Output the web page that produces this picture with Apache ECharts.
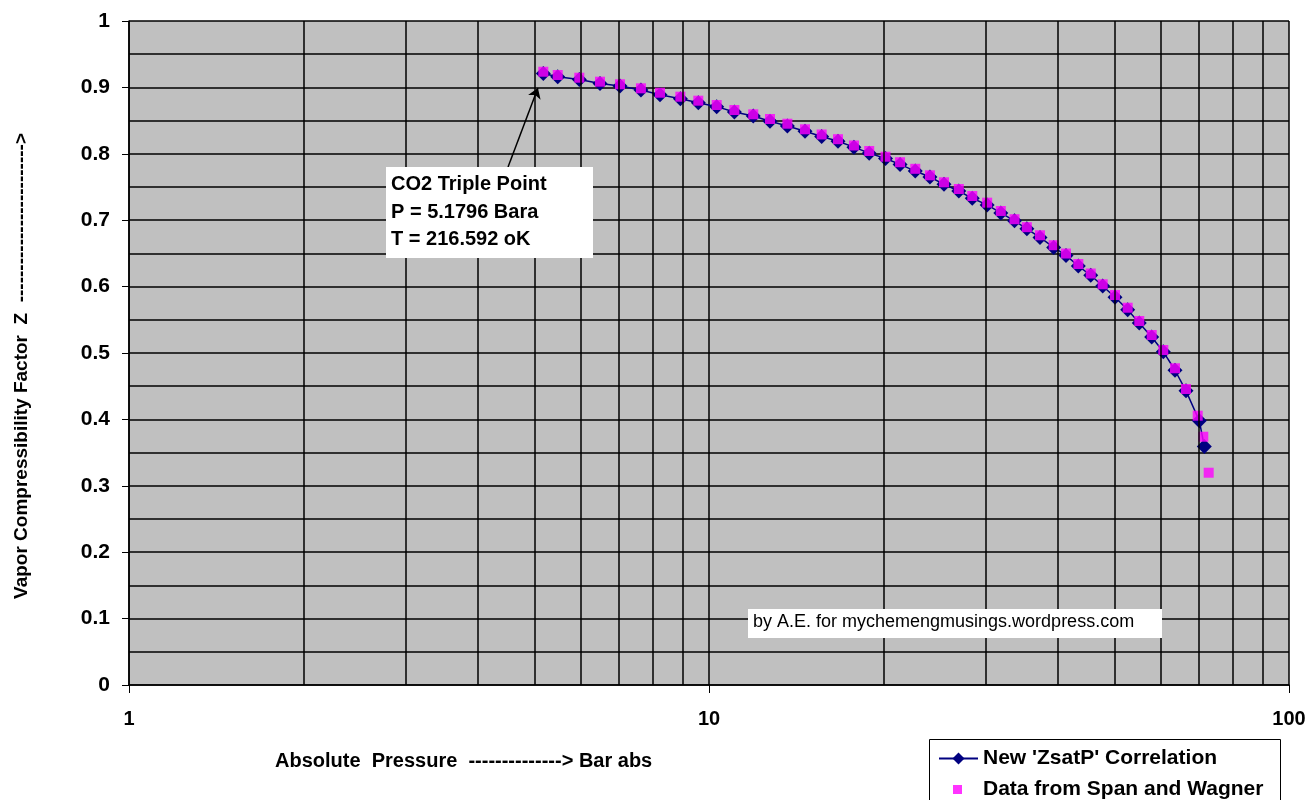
<!DOCTYPE html>
<html>
<head>
<meta charset="utf-8">
<script src="https://cdn.jsdelivr.net/npm/echarts@6/dist/echarts.min.js"></script>
<style>
html, body { margin: 0; padding: 0; background: #fff; }
#chart { width: 1311px; height: 800px; }
</style>
</head>
<body>
<div id="chart"></div>
<script>
// saturation pressure, bar abs (Span & Wagner data points)
var dataP = [5.18, 5.485, 5.976, 6.487, 7.023, 7.632, 8.233, 8.925, 9.584, 10.31,
  11.06, 11.92, 12.74, 13.65, 14.64, 15.64, 16.69, 17.78, 18.89, 20.15,
  21.35, 22.68, 24.04, 25.42, 26.96, 28.44, 30.17, 31.85, 33.63, 35.32,
  37.21, 39.29, 41.26, 43.33, 45.52, 47.73, 50.12, 52.71, 55.19, 57.98,
  60.71, 63.60, 66.44, 69.60, 71.16, 72.70]
var dataZ = [0.9236, 0.9187, 0.9146, 0.9086, 0.9047, 0.8986, 0.8920, 0.8860, 0.8800, 0.8735,
  0.8660, 0.8595, 0.8524, 0.8453, 0.8369, 0.8291, 0.8220, 0.8125, 0.8042, 0.7956,
  0.7873, 0.7774, 0.7676, 0.7571, 0.7470, 0.7364, 0.7264, 0.7139, 0.7015, 0.6895,
  0.6773, 0.6623, 0.6498, 0.6340, 0.6197, 0.6035, 0.5873, 0.5682, 0.5482, 0.5271,
  0.5045, 0.4770, 0.4458, 0.4056, 0.3739, 0.3197]

// new 'ZsatP' correlation
var corrP = [5.18, 5.485, 5.976, 6.487, 7.023, 7.632, 8.233, 8.925, 9.584, 10.31,
  11.06, 11.92, 12.74, 13.65, 14.64, 15.64, 16.69, 17.78, 18.89, 20.15,
  21.35, 22.68, 24.04, 25.42, 26.96, 28.44, 30.17, 31.85, 33.63, 35.32,
  37.21, 39.29, 41.26, 43.33, 45.52, 47.73, 50.12, 52.71, 55.19, 57.98,
  60.71, 63.60, 66.44, 70.04, 71.45]
var corrZ = [0.921, 0.916, 0.912, 0.906, 0.902, 0.896, 0.889, 0.883, 0.877, 0.871,
  0.863, 0.857, 0.849, 0.842, 0.834, 0.826, 0.819, 0.810, 0.801, 0.793,
  0.784, 0.774, 0.765, 0.754, 0.744, 0.733, 0.723, 0.711, 0.699, 0.687,
  0.674, 0.659, 0.647, 0.631, 0.617, 0.601, 0.584, 0.565, 0.545, 0.524,
  0.502, 0.474, 0.443, 0.398, 0.359]

// minor log grid lines
var minorX = [2, 3, 4, 5, 6, 7, 8, 9, 20, 30, 40, 50, 60, 70, 80, 90]

// arrow of the triple point note (from, to)
var arrowFrom = [4.503, 0.780]
var arrowTo = [5.07, 0.899]

var FONT = 'Liberation Sans, Arial, sans-serif'
var gridLine = { color: '#000', width: 1.5 }

function zip (xs, ys) {
  return xs.map(function (x, i) { return [x, ys[i]] })
}

var chart = echarts.init(document.getElementById('chart'))
chart.setOption({
  animation: false,
  grid: {
    left: 129, top: 21, width: 1160, height: 664,
    show: true, backgroundColor: '#c0c0c0', borderWidth: 0
  },
  xAxis: {
    type: 'log', logBase: 10, min: 1, max: 100,
    axisLine: { show: true, lineStyle: { color: '#000', width: 1.5 } },
    axisTick: { show: true, length: 8, lineStyle: { color: '#000' } },
    axisLabel: { color: '#000', fontSize: 20, fontWeight: 'bold', fontFamily: FONT, margin: 24 },
    splitLine: { show: true, lineStyle: gridLine }
  },
  yAxis: {
    type: 'value', min: 0, max: 1, interval: 0.1,
    axisLine: { show: true, lineStyle: { color: '#000', width: 1.5 } },
    axisTick: { show: true, length: 7, lineStyle: { color: '#000' } },
    axisLabel: { color: '#000', fontSize: 21, fontWeight: 'bold', fontFamily: FONT, margin: 19 },
    splitLine: { show: true, lineStyle: gridLine },
    minorTick: { show: false, splitNumber: 2 },
    minorSplitLine: { show: true, lineStyle: gridLine }
  },
  legend: [{
    data: ["New 'ZsatP' Correlation"],
    left: 938, top: 748, padding: 0, itemWidth: 39, itemHeight: 15, selectedMode: false,
    textStyle: { color: '#000', fontSize: 21, fontWeight: 'bold', fontFamily: FONT }
  }, {
    data: [{ name: 'Data from Span and Wagner', icon: 'rect' }],
    left: 953, top: 779, padding: 0, itemWidth: 9, itemHeight: 9, selectedMode: false,
    textStyle: { color: '#000', fontSize: 21, fontWeight: 'bold', fontFamily: FONT, padding: [0, 0, 0, 16] }
  }],
  graphic: [{
    type: 'rect', left: 929, top: 739, z: 0,
    shape: { width: 351, height: 70 },
    style: { fill: '#fff', stroke: '#000', lineWidth: 1 }
  }, {
    type: 'text', x: 22, y: 366, rotation: Math.PI / 2,
    style: {
      text: 'Vapor Compressibility Factor  Z  ------------------------->',
      fill: '#000', font: 'bold 19px ' + FONT, align: 'center', verticalAlign: 'middle'
    }
  }, {
    type: 'text', left: 275, top: 751,
    style: { text: 'Absolute  Pressure  --------------> Bar abs', fill: '#000', font: 'bold 20px ' + FONT }
  }, {
    type: 'rect', left: 386, top: 167, z: 10,
    shape: { width: 207, height: 91 },
    style: { fill: '#fff' }
  }, {
    type: 'text', left: 391, top: 171, z: 11,
    style: {
      text: 'CO2 Triple Point\nP = 5.1796 Bara\nT = 216.592 oK',
      fill: '#000', font: 'bold 20px ' + FONT, lineHeight: 27.5
    }
  }, {
    type: 'rect', left: 748, top: 609, z: 10,
    shape: { width: 414, height: 29 },
    style: { fill: '#fff' }
  }, {
    type: 'text', left: 753, top: 613, z: 11,
    style: { text: 'by A.E. for mychemengmusings.wordpress.com', fill: '#000', font: '18px ' + FONT }
  }],
  series: [{
    // extra log grid lines
    type: 'line', data: [], silent: true, z: 1,
    markLine: {
      silent: true, symbol: ['none', 'none'], label: { show: false },
      lineStyle: { color: '#000', width: 1.5, type: 'solid' },
      emphasis: { disabled: true },
      data: minorX.map(function (v) { return { xAxis: v } })
    }
  }, {
    name: "New 'ZsatP' Correlation",
    type: 'line', z: 3,
    data: zip(corrP, corrZ),
    symbol: 'diamond', symbolSize: 15,
    lineStyle: { color: '#000080', width: 1.5 },
    itemStyle: { color: '#000080' },
    markLine: {
      silent: true, label: { show: false }, symbolSize: 10,
      lineStyle: { color: '#000', width: 1.5, type: 'solid' },
      emphasis: { disabled: true },
      data: [[{ coord: arrowFrom, symbol: 'none' }, { coord: arrowTo, symbol: 'arrow' }]]
    }
  }, {
    name: 'Data from Span and Wagner',
    type: 'scatter', z: 4,
    data: zip(dataP, dataZ),
    symbol: 'rect', symbolSize: 10,
    itemStyle: { color: '#ff00ff' }
  }]
})
</script>
</body>
</html>
